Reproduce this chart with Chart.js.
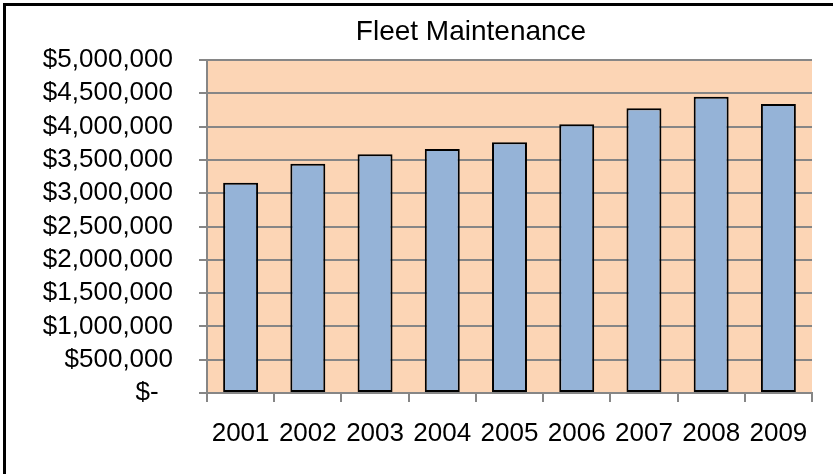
<!DOCTYPE html>
<html>
<head>
<meta charset="utf-8">
<title>Fleet Maintenance</title>
<script src="https://cdn.jsdelivr.net/npm/chart.js@4.4.1/dist/chart.umd.min.js"></script>
<style>
    html, body { margin: 0; padding: 0; background: #ffffff; }
    #wrap { position: relative; width: 833px; height: 474px; overflow: hidden; }
    #frame {
        position: absolute; left: 3px; top: 3px; width: 900px; height: 600px;
        border-left: 3px solid #000; border-top: 3px solid #000; pointer-events: none;
    }
</style>
</head>
<body>
<div id="wrap">
    <canvas id="chart" width="833" height="474"></canvas>
    <div id="frame"></div>
</div>
<script>
const years = ['2001', '2002', '2003', '2004', '2005', '2006', '2007', '2008', '2009'];
const costs = [3158000, 3443000, 3584000, 3664000, 3764000, 4034000, 4275000, 4450000, 4340000];
const yTicks = [0, 500000, 1000000, 1500000, 2000000, 2500000, 3000000, 3500000, 4000000, 4500000, 5000000];

const fontFamily = '"Liberation Sans", Arial, sans-serif';
const gridColor = '#868686';

// fond pêche de la zone de tracé
const plotBackground = {
    id: 'plotBackground',
    beforeDraw(chart) {
        const a = chart.chartArea;
        const ctx = chart.ctx;
        ctx.save();
        ctx.fillStyle = '#FCD5B5';
        ctx.fillRect(a.left, a.top, a.right - a.left, a.bottom - a.top);
        ctx.restore();
    }
};

// le titre Excel est un peu décalé vers la droite
const titleShift = {
    id: 'titleShift',
    afterLayout(chart) {
        const t = chart.titleBlock;
        if (!t) return;
        t.left += 60;
        t.right += 60;
    }
};

function money(value) {
    if (value === 0) return '$-  ';
    return '$' + value.toLocaleString('en-US');
}

const ctx = document.getElementById('chart');
new Chart(ctx, {
    type: 'bar',
    data: {
        labels: years,
        datasets: [{
            label: 'Fleet Maintenance',
            data: costs,
            backgroundColor: '#95B3D7',
            borderColor: '#000000',
            borderWidth: 2,
            borderSkipped: false,
            barPercentage: 0.52,
            categoryPercentage: 1.0
        }]
    },
    options: {
        responsive: false,
        animation: false,
        devicePixelRatio: 1,
        layout: { padding: { left: 10, right: 21, top: 0, bottom: 0 } },
        plugins: {
            legend: { display: false },
            tooltip: { enabled: false },
            title: {
                display: true,
                text: 'Fleet Maintenance',
                color: '#000000',
                font: { family: fontFamily, size: 28, weight: 'normal', lineHeight: 1.2 },
                padding: { top: 15, bottom: 11.4 }
            }
        },
        scales: {
            x: {
                grid: { display: true, drawOnChartArea: false, drawTicks: true, tickLength: 9, color: gridColor, lineWidth: 2 },
                border: { display: true, color: gridColor, width: 2 },
                ticks: { color: '#000000', padding: 16, font: { family: fontFamily, size: 26 }, maxRotation: 0, autoSkip: false },
                afterFit(scale) { scale.height = 81; }
            },
            y: {
                min: 0,
                max: 5000000,
                afterBuildTicks(scale) { scale.ticks = yTicks.map(v => ({ value: v })); },
                grid: { color: gridColor, lineWidth: 2, drawTicks: true, tickLength: 8 },
                border: { display: true, color: gridColor, width: 2 },
                ticks: {
                    color: '#000000',
                    padding: 26,
                    autoSkip: false,
                    font: { family: fontFamily, size: 26 },
                    callback: (value) => money(value)
                },
                afterFit(scale) { scale.width = 197; }
            }
        }
    },
    plugins: [plotBackground, titleShift]
});
</script>
</body>
</html>
